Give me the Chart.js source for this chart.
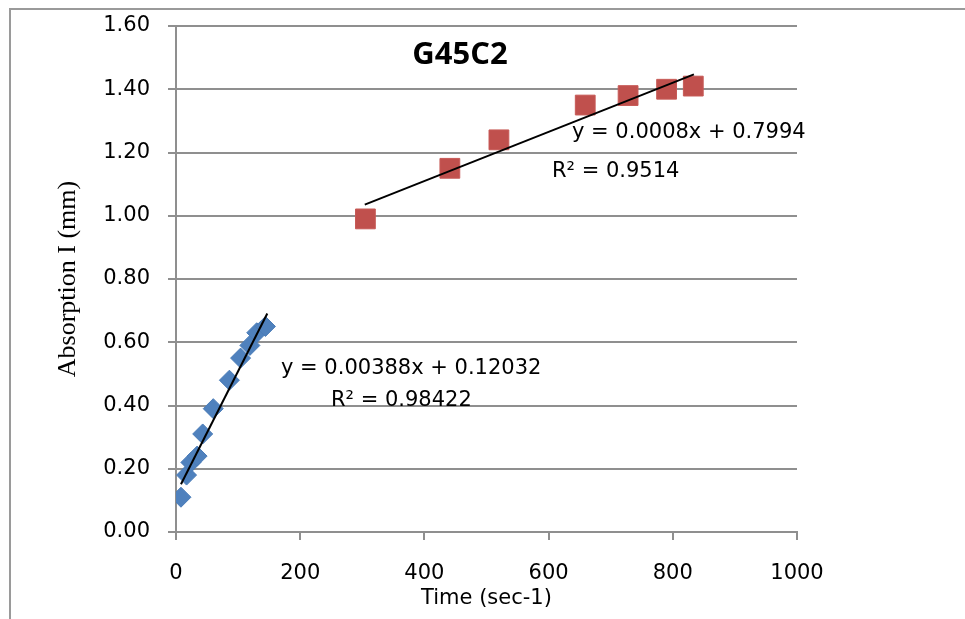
<!DOCTYPE html>
<html>
<head>
<meta charset="utf-8">
<script src="https://cdn.jsdelivr.net/npm/chart.js@4.4.0/dist/chart.umd.min.js"></script>
<style>
  body { margin: 0; background: #fff; }
  canvas { display: block; }
</style>
</head>
<body>
<canvas id="chart" width="965" height="619"></canvas>
<script>
// -----------------------------
// Data
// -----------------------------
const blueX = [8, 17, 24, 34, 43, 60, 86, 104, 119, 130, 144];
const blueY = [0.11, 0.18, 0.22, 0.24, 0.31, 0.39, 0.48, 0.55, 0.59, 0.63, 0.65];

const redX = [305, 441, 520, 659, 728, 790, 833];
const redY = [0.99, 1.15, 1.24, 1.35, 1.38, 1.40, 1.41];

// trendline ends
const blueTrendX = [8, 147];
const blueTrendY = [0.151, 0.691];
const redTrendX = [304, 834];
const redTrendY = [1.035, 1.447];

const chartTitle = "G45C2";
const blueEq = ["y = 0.00388x + 0.12032", "R² = 0.98422"];
const redEq = ["y = 0.0008x + 0.7994", "R² = 0.9514"];

const xTitle = "Time (sec-1)";
const yTitle = "Absorption I (mm)";

function toPoints(xs, ys) {
    return xs.map((x, i) => ({ x: x, y: ys[i] }));
}

const gridGray = "#8f8f8f";
const tickFont = { family: "DejaVu Sans", size: 21 };

// -----------------------------
// Frame + text plugin
// -----------------------------
const decor = {
    id: "decor",
    beforeDraw(chart) {
        const ctx = chart.ctx;
        ctx.save();
        ctx.fillStyle = "#fff";
        ctx.fillRect(0, 0, chart.width, chart.height);
        ctx.strokeStyle = "#9a9a9a";
        ctx.lineWidth = 2;
        ctx.beginPath();
        ctx.moveTo(10, chart.height);
        ctx.lineTo(10, 9);
        ctx.lineTo(chart.width, 9);
        ctx.stroke();
        ctx.restore();
    },
    afterDraw(chart) {
        const ctx = chart.ctx;
        ctx.save();
        ctx.fillStyle = "#000";
        ctx.textBaseline = "middle";

        ctx.font = "bold 31px 'Open Sans'";
        ctx.textAlign = "center";
        ctx.fillText(chartTitle, 460, 55);

        ctx.font = "21px 'DejaVu Sans'";
        ctx.textAlign = "left";
        ctx.fillText(redEq[0], 572, 133);
        ctx.fillText(redEq[1], 552, 172);
        ctx.fillText(blueEq[0], 281, 369);
        ctx.fillText(blueEq[1], 331, 401);
        ctx.restore();
    }
};

// -----------------------------
// Chart
// -----------------------------
new Chart(document.getElementById("chart"), {
    type: "scatter",
    data: {
        datasets: [
            {
                data: toPoints(blueTrendX, blueTrendY),
                showLine: true,
                borderColor: "#000",
                borderWidth: 2,
                pointRadius: 0,
                order: 0
            },
            {
                data: toPoints(redTrendX, redTrendY),
                showLine: true,
                borderColor: "#000",
                borderWidth: 2,
                pointRadius: 0,
                order: 0
            },
            {
                data: toPoints(blueX, blueY),
                pointStyle: "rectRot",
                pointRadius: 10,
                backgroundColor: "#4f81bd",
                borderColor: "#4a7cb8",
                borderWidth: 1,
                order: 1
            },
            {
                data: toPoints(redX, redY),
                pointStyle: "rect",
                pointRadius: 14,
                backgroundColor: "#c0504d",
                borderColor: "#c75a57",
                borderWidth: 1,
                order: 1
            }
        ]
    },
    options: {
        responsive: false,
        animation: false,
        devicePixelRatio: 1,
        layout: { padding: { top: 26, right: 168, bottom: 0, left: 0 } },
        plugins: {
            legend: { display: false },
            tooltip: { enabled: false }
        },
        scales: {
            x: {
                type: "linear",
                min: 0,
                max: 1000,
                afterFit: (scale) => { scale.height = 87; },
                ticks: {
                    stepSize: 200,
                    color: "#000",
                    font: tickFont,
                    padding: 21,
                    maxRotation: 0,
                    callback: (v) => String(v)
                },
                grid: {
                    drawOnChartArea: false,
                    drawTicks: true,
                    tickLength: 8,
                    tickColor: gridGray,
                    lineWidth: 2
                },
                border: { color: gridGray, width: 2 },
                title: {
                    display: true,
                    text: xTitle,
                    color: "#000",
                    font: { family: "DejaVu Sans", size: 21 },
                    padding: { top: 0, bottom: 8 }
                }
            },
            y: {
                type: "linear",
                min: 0,
                max: 1.6,
                afterFit: (scale) => {
                    scale.width = 176;
                    scale.paddingTop = 0;
                    scale.paddingBottom = 0;
                },
                ticks: {
                    stepSize: 0.2,
                    color: "#000",
                    font: tickFont,
                    padding: 18,
                    callback: (v) => Number(v).toFixed(2)
                },
                grid: {
                    color: gridGray,
                    lineWidth: 2,
                    tickLength: 8,
                    tickColor: gridGray
                },
                border: { color: gridGray, width: 2 },
                title: {
                    display: true,
                    text: yTitle,
                    color: "#000",
                    font: { family: "Liberation Serif", size: 26 },
                    padding: { top: 53, bottom: 0 }
                }
            }
        }
    },
    plugins: [decor]
});
</script>
</body>
</html>
